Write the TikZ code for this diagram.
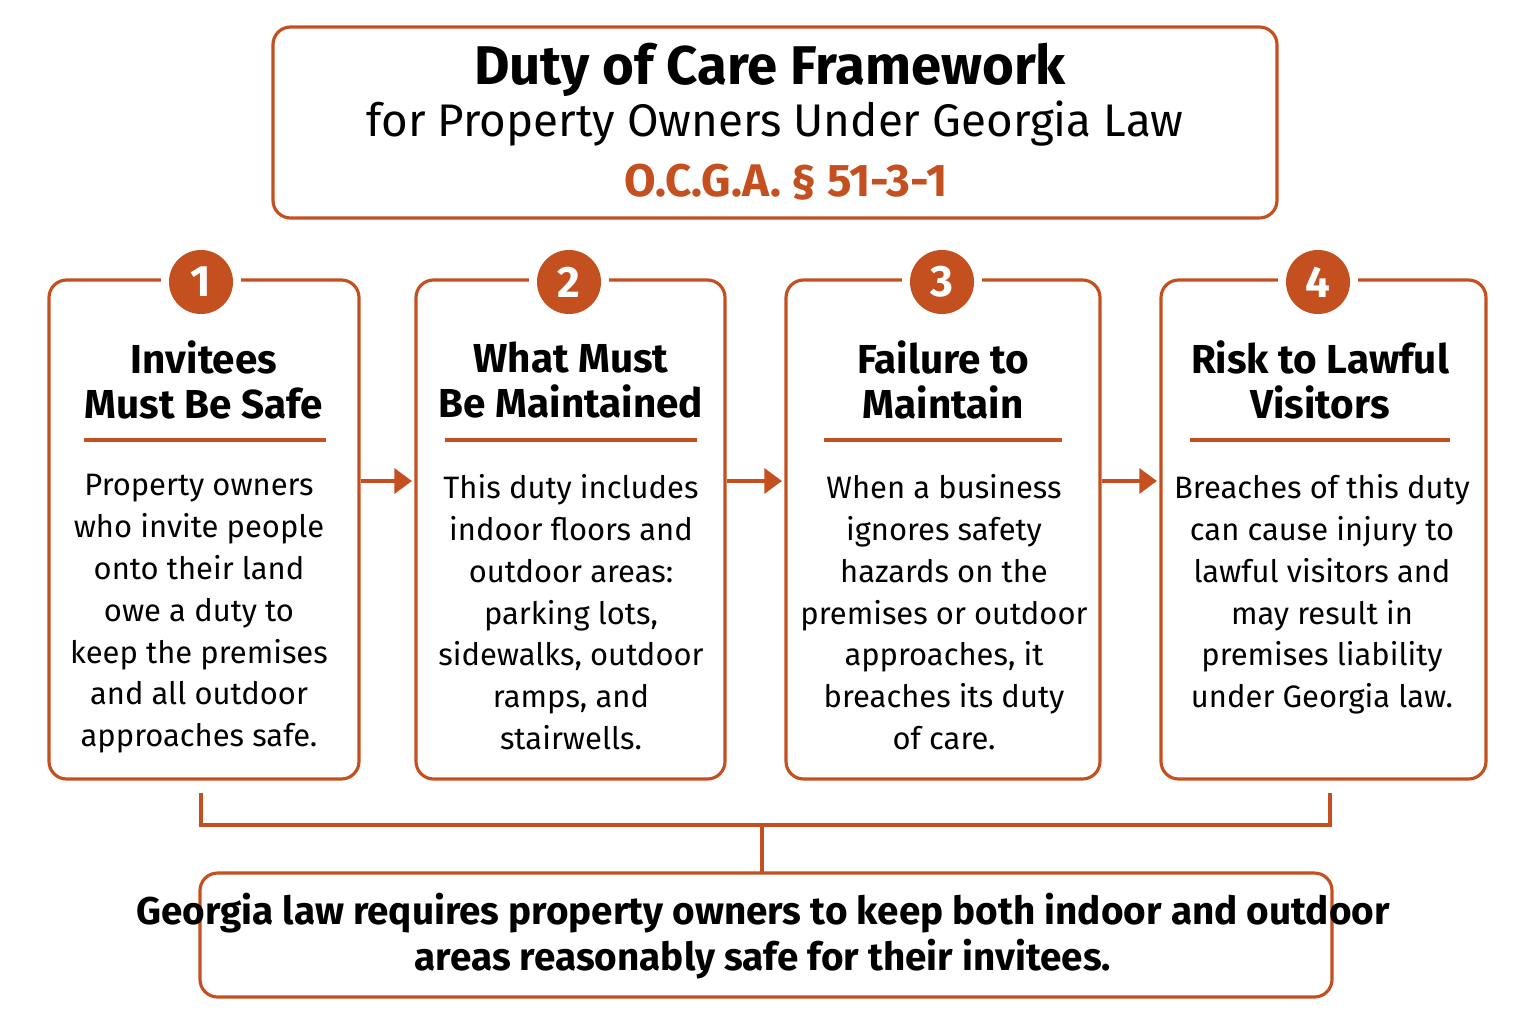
\documentclass[tikz,border=0pt]{standalone}
\usepackage{fontspec}
\setmainfont{Fira Sans}
\usetikzlibrary{positioning,arrows.meta}
\definecolor{rust}{HTML}{C4501F}
\tikzset{
  panel/.style={draw=rust,line width=0.9pt,rounded corners=5pt},
  num/.style={circle,fill=rust,text=white,minimum size=0.64cm,inner sep=0pt,font=\fontsize{12.5}{12.5}\selectfont\bfseries},
  head/.style={align=center,font=\fontsize{11.5}{13}\selectfont\bfseries},
  body/.style={align=center,font=\fontsize{8.8}{11.9}\selectfont},
  flowarrow/.style={-{Triangle[length=5pt,width=7pt]},draw=rust,line width=1.4pt},
  link/.style={draw=rust,line width=0.9pt}
}
\begin{document}
\begin{tikzpicture}[x=0.01cm,y=-0.01cm]
\useasboundingbox (0,0) rectangle (1536,1024);
% title
\draw[panel] (273,27) rectangle (1277,218);
\node[font=\fontsize{15.5}{17}\selectfont\bfseries] (ttl) at (770,70) {Duty of Care Framework};
\node[font=\fontsize{13}{15}\selectfont] (sub) at (775,124) {for Property Owners Under Georgia Law};
\node[font=\fontsize{13}{15}\selectfont\bfseries,text=rust] (code) at (786,182) {O.C.G.A. § 51-3-1};
% four panels
\draw[panel] (49,280) rectangle (359,779);
\draw[panel] (416,280) rectangle (725,779);
\draw[panel] (786,280) rectangle (1100,779);
\draw[panel] (1161,280) rectangle (1486,779);
\foreach \n/\x in {1/201,2/569,3/942,4/1318}{
  \fill[white] (\x-40,272) rectangle (\x+40,290);
  \node[num] (c\n) at (\x,282) {\n};
}
\node[head] (h1) at (204,380) {Invitees\\Must Be Safe};
\node[head] (h2) at (571,380) {What Must\\Be Maintained};
\node[head] (h3) at (943,380) {Failure to\\Maintain};
\node[head] (h4) at (1320,380) {Risk to Lawful\\Visitors};
\draw[link] (84,440) -- (326,440);
\draw[link] (445,440) -- (697,440);
\draw[link] (824,440) -- (1062,440);
\draw[link] (1190,440) -- (1450,440);
\node[body,anchor=north] (b1) at (199,462) {Property owners\\who invite people\\onto their land\\owe a duty to\\keep the premises\\and all outdoor\\approaches safe.};
\node[body,anchor=north] (b2) at (571,462) {This duty includes\\indoor floors and\\outdoor areas:\\parking lots,\\sidewalks, outdoor\\ramps, and\\stairwells.};
\node[body,anchor=north] (b3) at (944,462) {When a business\\ignores safety\\hazards on the\\premises or outdoor\\approaches, it\\breaches its duty\\of care.};
\node[body,anchor=north] (b4) at (1322,462) {Breaches of this duty\\can cause injury to\\lawful visitors and\\may result in\\premises liability\\under Georgia law.};
% arrows
\coordinate (a1) at (361,481); \coordinate (a2) at (412,481);
\coordinate (a3) at (727,481); \coordinate (a4) at (782,481);
\coordinate (a5) at (1102,481); \coordinate (a6) at (1157,481);
\draw[flowarrow] (a1) -- (a2);
\draw[flowarrow] (a3) -- (a4);
\draw[flowarrow] (a5) -- (a6);
% bracket
\coordinate (l) at (201,793); \coordinate (r) at (1330,793); \coordinate (m) at (762,825);
\draw[link] (l) |- (m) -| (r);
\draw[panel] (200,873) rectangle (1332,997);
\draw[link] (m) -- (762,873);
\node[font=\fontsize{11}{13}\selectfont\bfseries,align=center] (sum) at (763,936)
  {Georgia law requires property owners to keep both indoor and outdoor\\areas reasonably safe for their invitees.};
\end{tikzpicture}
\end{document}
